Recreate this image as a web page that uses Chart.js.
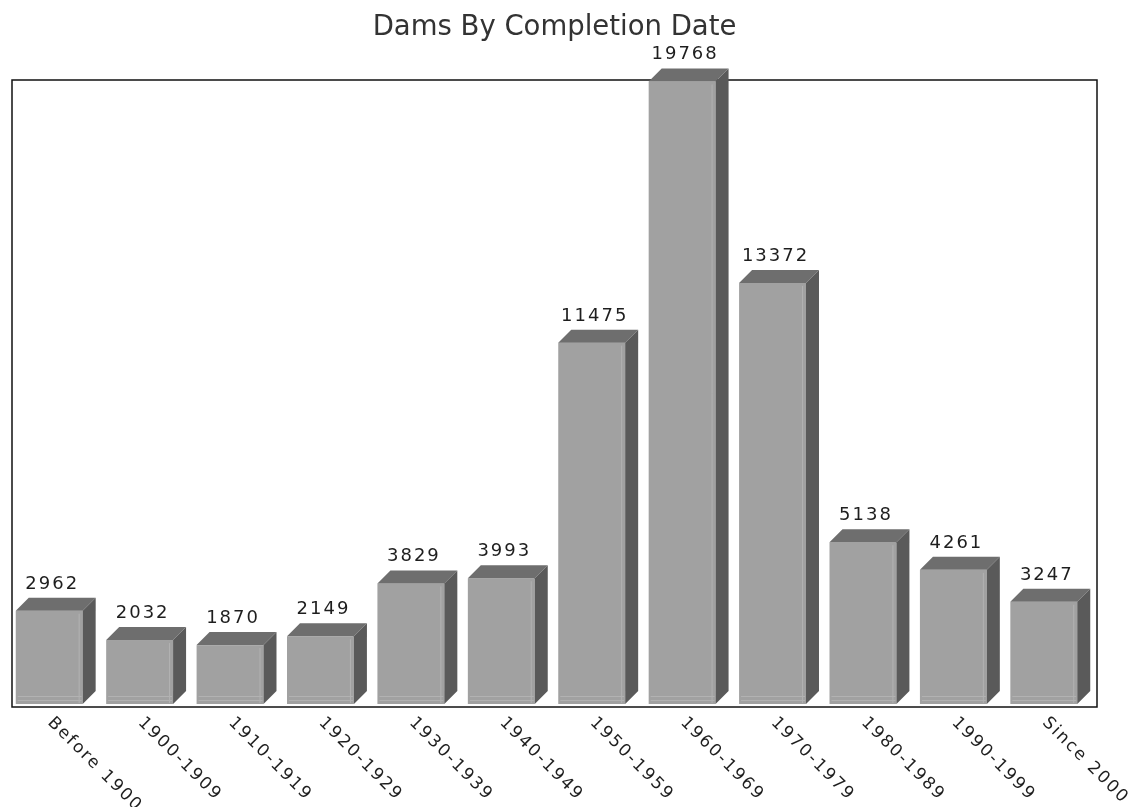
<!DOCTYPE html>
<html>
<head>
<meta charset="utf-8">
<script src="https://cdn.jsdelivr.net/npm/chart.js@4"></script>
<style>
  html, body { margin: 0; padding: 0; background: #fff; }
  #wrap { width: 1132px; height: 807px; }
</style>
</head>
<body>
<div id="wrap"><canvas id="chart"></canvas></div>
<script>
var categories = ['Before 1900', '1900-1909', '1910-1919', '1920-1929', '1930-1939', '1940-1949',
                  '1950-1959', '1960-1969', '1970-1979', '1980-1989', '1990-1999', 'Since 2000'];
var damCounts = [2962, 2032, 1870, 2149, 3829, 3993, 11475, 19768, 13372, 5138, 4261, 3247];

var FONT = '"DejaVu Sans", Verdana, sans-serif';
var DEPTH_X = 13, DEPTH_Y = 13, SHIFT = 8;

// box around plot area, drawn under the bars
var frameBox = {
    id: 'frameBox',
    beforeDatasetsDraw: function(chart) {
        var a = chart.chartArea, ctx = chart.ctx;
        ctx.save();
        ctx.strokeStyle = '#111';
        ctx.lineWidth = 1.5;
        ctx.strokeRect(a.left, a.top, a.right - a.left, a.bottom - a.top);
        ctx.restore();
    }
};

// fake 3d bars + value labels + slanted category labels
var bars3d = {
    id: 'bars3d',
    afterDatasetsDraw: function(chart) {
        var ctx = chart.ctx;
        var meta = chart.getDatasetMeta(0);
        var xScale = chart.scales.x;
        ctx.save();
        meta.data.forEach(function(bar, i) {
            var p = bar.getProps(['x', 'y', 'base', 'width'], true);
            var l = p.x - p.width / 2 - SHIFT, r = p.x + p.width / 2 - SHIFT;
            var t = p.y, b = p.base;
            // front
            ctx.fillStyle = '#a1a1a1';
            ctx.fillRect(l, t, r - l, b - t);
            ctx.strokeStyle = '#b2b2b2';
            ctx.lineWidth = 1;
            ctx.beginPath();
            ctx.moveTo(r - 3.5, t + 3); ctx.lineTo(r - 3.5, b - 1);
            ctx.moveTo(l + 2, b - 7.5); ctx.lineTo(r - 1, b - 7.5);
            ctx.moveTo(l + 2, b - 3.5); ctx.lineTo(r - 1, b - 3.5);
            ctx.stroke();
            // top
            ctx.fillStyle = '#6e6e6e';
            ctx.beginPath();
            ctx.moveTo(l, t); ctx.lineTo(l + DEPTH_X, t - DEPTH_Y);
            ctx.lineTo(r + DEPTH_X, t - DEPTH_Y); ctx.lineTo(r, t);
            ctx.closePath(); ctx.fill();
            // side
            ctx.fillStyle = '#5a5a5a';
            ctx.beginPath();
            ctx.moveTo(r, t); ctx.lineTo(r + DEPTH_X, t - DEPTH_Y);
            ctx.lineTo(r + DEPTH_X, b - DEPTH_Y); ctx.lineTo(r, b);
            ctx.closePath(); ctx.fill();

            // value
            ctx.fillStyle = '#1e1e1e';
            ctx.font = '18px ' + FONT;
            ctx.letterSpacing = '2px';
            ctx.textAlign = 'center';
            ctx.textBaseline = 'alphabetic';
            ctx.fillText(String(damCounts[i]), (l + r) / 2 + 3, t - DEPTH_Y - 9);

            // category label, turned clockwise
            var cx = xScale.getPixelForTick(i) - SHIFT;
            ctx.font = '17px ' + FONT;
            ctx.save();
            ctx.translate(cx + 1, chart.chartArea.bottom + 13);
            ctx.rotate(Math.PI / 4);
            ctx.textAlign = 'left';
            ctx.textBaseline = 'middle';
            ctx.fillText(categories[i], 0, 0);
            ctx.restore();
        });
        ctx.restore();
    }
};

var chart = new Chart(document.getElementById('chart'), {
    type: 'bar',
    data: {
        labels: categories,
        datasets: [{
            label: 'Dams',
            data: damCounts,
            backgroundColor: 'rgba(0,0,0,0)',
            borderWidth: 0,
            barPercentage: 0.74,
            categoryPercentage: 1.0
        }]
    },
    options: {
        responsive: true,
        maintainAspectRatio: false,
        animation: false,
        layout: { padding: { left: 12, right: 35, top: 0, bottom: 100 } },
        scales: {
            x: { display: false },
            y: { display: false, min: -95, max: 19815 }
        },
        plugins: {
            legend: { display: false },
            tooltip: { enabled: false },
            title: {
                display: true,
                text: 'Dams By Completion Date',
                color: '#333',
                font: { family: FONT, size: 27.5, weight: 'normal' },
                padding: { top: 11.5, bottom: 35.5 }
            }
        }
    },
    plugins: [frameBox, bars3d]
});
</script>
</body>
</html>
